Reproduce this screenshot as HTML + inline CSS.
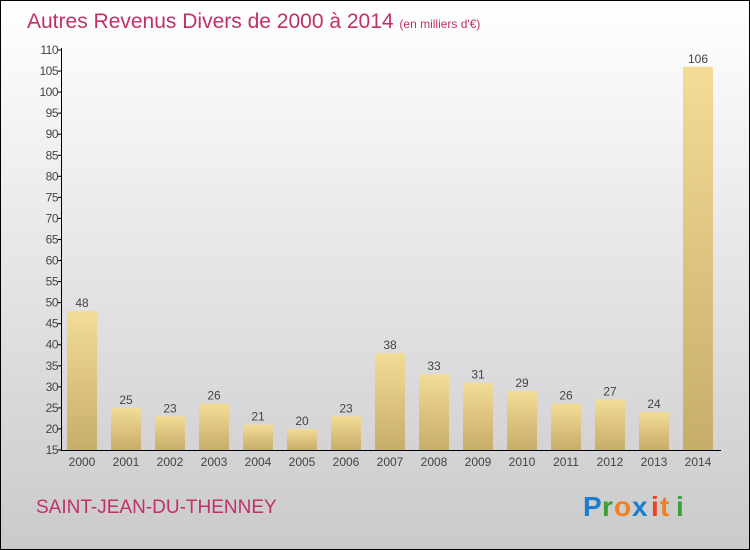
<!DOCTYPE html>
<html><head><meta charset="utf-8"><style>
body{margin:0}
svg{display:block;font-family:"Liberation Sans",sans-serif}
</style></head><body>
<svg width="750" height="550" id="c">
<defs>
<linearGradient id="bg" x1="0" y1="0" x2="0" y2="1"><stop offset="0" stop-color="#ffffff"/><stop offset="1" stop-color="#cacaca"/></linearGradient>
<linearGradient id="bar" x1="0" y1="0" x2="0" y2="1"><stop offset="0" stop-color="#f3dc95"/><stop offset="1" stop-color="#c6ad6b"/></linearGradient>
</defs>
<rect x="0.5" y="0.5" width="749" height="549" fill="url(#bg)" stroke="#000"/>
<text x="27" y="28" font-size="21" fill="#c0306a">Autres Revenus Divers de 2000 à 2014 <tspan font-size="12">(en milliers d'€)</tspan></text>
<g id="plot"></g>
<text x="36" y="513" font-size="19" fill="#c0306a">SAINT-JEAN-DU-THENNEY</text>
<g font-size="28" font-weight="bold">
<text x="583" y="516" fill="#1a7fd0">P</text><text x="602" y="516" fill="#3aa03a">r</text><text x="614" y="516" fill="#f08020">o</text><text x="632" y="516" fill="#1a7fd0">x</text><text x="651" y="516" fill="#f04020">i</text><text x="660" y="516" fill="#f08020">t</text><text x="676" y="516" fill="#3aa03a">i</text>
</g>
</svg>
<script>
const years=["2000","2001","2002","2003","2004","2005","2006","2007","2008","2009","2010","2011","2012","2013","2014"];
const values=[48,25,23,26,21,20,23,38,33,31,29,26,27,24,106];
const ticks=[15,20,25,30,35,40,45,50,55,60,65,70,75,80,85,90,95,100,105,110];
const NS="http://www.w3.org/2000/svg";
const g=document.getElementById('plot');
const y0=450,y1=50,vmin=15,vmax=110;
const ys=v=>y0-(v-vmin)*(y0-y1)/(vmax-vmin);
const xs=i=>82+i*44;
function mk(t,a,txt){const e=document.createElementNS(NS,t);for(const k in a)e.setAttribute(k,a[k]);if(txt!==undefined)e.textContent=txt;g.appendChild(e);return e;}
years.forEach((yr,i)=>{
 const r=mk('rect',{x:xs(i)-15,y:ys(values[i]),width:30,height:y0-ys(values[i]),fill:'url(#bar)'});
 
 
 const l=mk('text',{x:xs(i),y:ys(values[i])-4,'font-size':12,'text-anchor':'middle',fill:'#444'},values[i]);
 
 
 const t=mk('text',{x:xs(i),y:466,'font-size':12,'text-anchor':'middle',fill:'#444'},yr);
 
 
});
ticks.forEach(v=>{
 const y=ys(v);
 const tk=mk('line',{x1:58,x2:62,y1:y,y2:y,stroke:'#000'});
 
 
 const t=mk('text',{x:58,y:y+4,'font-size':12,'text-anchor':'end',fill:'#444','letter-spacing':'-0.5'},v);
 
 
});
const ya=mk('line',{x1:61.5,x2:61.5,y1:48,y2:450,stroke:'#000'});


const xa=mk('line',{x1:61,x2:721,y1:450.5,y2:450.5,stroke:'#000'});


</script>
</body></html>
